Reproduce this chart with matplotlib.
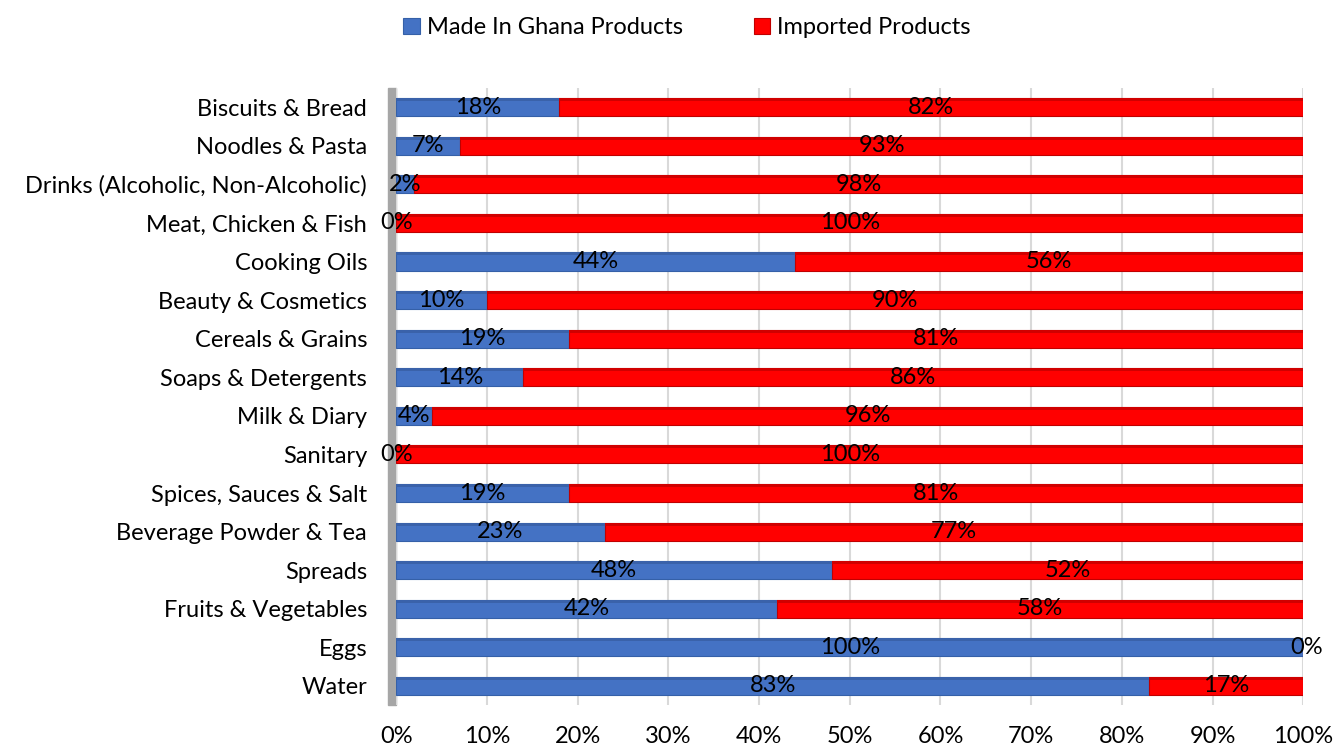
import numpy as np
import matplotlib.pyplot as plt

plt.rcParams['font.family'] = ['Lato', 'DejaVu Sans']

# categories top to bottom
categories = ["Biscuits & Bread", "Noodles & Pasta", "Drinks (Alcoholic, Non-Alcoholic)",
              "Meat, Chicken & Fish", "Cooking Oils", "Beauty & Cosmetics", "Cereals & Grains",
              "Soaps & Detergents", "Milk & Diary", "Sanitary", "Spices, Sauces & Salt",
              "Beverage Powder & Tea", "Spreads", "Fruits & Vegetables", "Eggs", "Water"]
made_in_ghana = [18, 7, 2, 0, 44, 10, 19, 14, 4, 0, 19, 23, 48, 42, 100, 83]
imported = [82, 93, 98, 100, 56, 90, 81, 86, 96, 100, 81, 77, 52, 58, 0, 17]
xticks = [0, 10, 20, 30, 40, 50, 60, 70, 80, 90, 100]

blue = "#4472C4"
red = "#FF0000"

fig = plt.figure(figsize=(13.34, 7.54), dpi=100)
ax = fig.add_axes([0.297, 0.0646, 0.680, 0.819])

y = np.arange(len(categories))
h = 0.47

#stacked bars
ax.barh(y, made_in_ghana, height=h, color=blue, edgecolor="#3560A8", linewidth=0.8,
        label="Made In Ghana Products", zorder=3)
ax.barh(y, imported, left=made_in_ghana, height=h, color=red, edgecolor="#C00000",
        linewidth=0.8, label="Imported Products", zorder=3)

#darker strip along the top of each bar for the 3d look
ax.barh(y - h / 2 + 0.04, made_in_ghana, height=0.08, color="#3A62AA", linewidth=0, zorder=4)
ax.barh(y - h / 2 + 0.04, imported, left=made_in_ghana, height=0.08, color="#D00000",
        linewidth=0, zorder=4)

#data labels in the middle of each segment
for i in range(len(categories)):
    a = made_in_ghana[i]
    b = imported[i]
    ax.text(a / 2, y[i], f"{a}%", ha="center", va="center", fontsize=17, zorder=5)
    ax.text(a + b / 2 if b > 0 else 100.4, y[i], f"{b}%", ha="center", va="center",
            fontsize=17, zorder=5)

ax.set_xlim(0, 100)
ax.set_ylim(len(categories) - 0.5, -0.5)
ax.set_yticks(y)
ax.set_yticklabels(categories, fontsize=17)
ax.set_xticks(xticks)
ax.set_xticklabels([f"{t}%" for t in xticks], fontsize=17)
ax.tick_params(axis="x", length=0, pad=15)
ax.tick_params(axis="y", length=0, pad=21)

ax.grid(axis="x", color="#D9D9D9", linewidth=1.5, zorder=0)
for s in ax.spines.values():
    s.set_visible(False)

#grey side wall on the left
ax.axvspan(-0.9, 0.0, color="#A6A6A6", clip_on=False, zorder=1)

fig.legend(loc="center", bbox_to_anchor=(0.515, 0.963), ncol=2, frameon=False,
           fontsize=17, handlelength=0.7, handleheight=0.7, handletextpad=0.3,
           columnspacing=3.0)

fig.savefig("out.png", dpi=100)
